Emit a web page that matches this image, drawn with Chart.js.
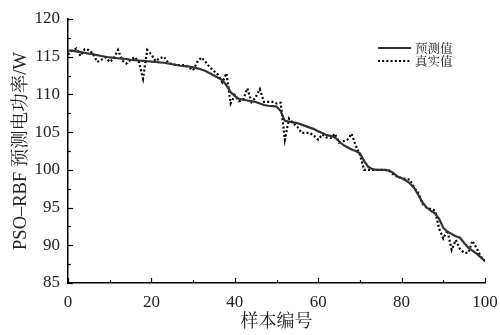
<!DOCTYPE html>
<html>
<head>
<meta charset="utf-8">
<script src="https://cdn.jsdelivr.net/npm/chart.js@4/dist/chart.umd.min.js"></script>
<style>
  html, body { margin: 0; padding: 0; background: #fff; }
  #wrap { width: 500px; height: 335px; position: relative; }
</style>
</head>
<body>
<div id="wrap"><canvas id="powerChart"></canvas></div>
<script>
// values, sample index 0..100
const predicted = [
  115.8, 115.8, 115.7, 115.6, 115.5, 115.4, 115.35, 115.2, 115.1, 115.0,
  114.9, 114.85, 114.8, 114.75, 114.7, 114.6, 114.55, 114.5, 114.45, 114.4,
  114.35, 114.3, 114.25, 114.2, 114.1, 114.0, 113.9, 113.8, 113.75, 113.7,
  113.6, 113.45, 113.3, 113.1, 112.8, 112.5, 112.2, 111.9, 111.2, 110.3,
  109.8, 109.4, 109.3, 109.2, 109.1, 109.0, 108.8, 108.6, 108.5, 108.45,
  108.4, 107.8, 106.5, 106.4, 106.3, 106.2, 106.0, 105.8, 105.6, 105.4,
  105.1, 104.9, 104.6, 104.5, 104.3, 103.8, 103.3, 103.0, 102.7, 102.5,
  102.2, 101.2, 100.4, 100.1, 100.0, 100.0, 100.0, 99.9, 99.6, 99.1,
  98.9, 98.6, 98.2, 97.6, 96.7, 95.7, 95.0, 94.6, 94.2, 93.5,
  92.3, 91.8, 91.5, 91.2, 91.0, 90.3, 89.7, 89.3, 88.9, 88.4,
  87.9
];
const actual = [
  115.3, 115.8, 116.1, 115.1, 116.0, 115.9, 115.4, 114.3, 114.6, 114.9,
  114.3, 114.8, 115.9, 114.5, 114.1, 114.6, 114.95, 114.3, 112.1, 115.9,
  115.3, 114.4, 114.8, 115.0, 114.2, 114.0, 113.9, 113.9, 113.9, 113.6,
  113.2, 114.3, 114.9, 114.3, 113.6, 113.1, 112.6, 111.6, 112.8, 108.8,
  109.9, 109.1, 109.3, 110.8, 109.0, 109.6, 110.7, 109.0, 109.0, 109.0,
  108.8, 108.9, 104.0, 106.8, 106.2, 105.7, 104.9, 104.9, 104.9, 104.5,
  104.0, 104.7, 104.3, 104.2, 104.8, 103.6, 103.8, 104.0, 104.8, 103.2,
  102.0, 100.0, 100.0, 100.0, 100.0, 100.0, 100.0, 99.9, 99.4, 99.1,
  98.9, 98.8, 98.7, 97.7, 96.9, 95.5, 95.0, 94.8, 94.6, 92.2,
  90.9, 92.0, 89.4, 90.7, 89.5, 89.0, 89.0, 90.6, 89.6, 88.5,
  87.9
];
const xLabelTicks = [0, 20, 40, 60, 80, 100];
const yLabelTicks = [85, 90, 95, 100, 105, 110, 115, 120];
const seriesNames = ["预测值", "真实值"];

const serif = '"Liberation Serif", "Times New Roman", "Noto Serif CJK SC", "Noto Sans CJK SC", serif';
const toPoints = arr => arr.map((v, i) => ({ x: i, y: v }));

// inward tick marks (major + minor) drawn off the library scales
const innerTicks = {
  id: "innerTicks",
  afterDraw(chart) {
    const { ctx, chartArea: a, scales: { x, y } } = chart;
    ctx.save();
    ctx.strokeStyle = "#000";
    ctx.lineWidth = 1.2;
    y.ticks.forEach(t => {
      const py = Math.round(y.getPixelForValue(t.value)) + 0.5;
      const len = yLabelTicks.includes(t.value) ? 5 : 3;
      ctx.beginPath(); ctx.moveTo(a.left, py); ctx.lineTo(a.left + len, py); ctx.stroke();
    });
    x.ticks.forEach(t => {
      const px = Math.round(x.getPixelForValue(t.value)) + 0.5;
      const len = xLabelTicks.includes(t.value) ? 5 : 3;
      ctx.beginPath(); ctx.moveTo(px, a.bottom); ctx.lineTo(px, a.bottom - len); ctx.stroke();
    });
    ctx.restore();
  }
};

// legend in the upper right of the plot
const cornerLegend = {
  id: "cornerLegend",
  afterDraw(chart) {
    const { ctx } = chart;
    const x0 = 378, x1 = 411, rows = [48, 61];
    ctx.save();
    chart.data.datasets.forEach((ds, i) => {
      ctx.strokeStyle = ds.borderColor;
      ctx.lineWidth = ds.borderWidth;
      ctx.setLineDash(ds.borderDash || []);
      ctx.beginPath(); ctx.moveTo(x0, rows[i]); ctx.lineTo(x1, rows[i]); ctx.stroke();
      ctx.setLineDash([]);
      ctx.fillStyle = "#222";
      ctx.font = '12.5px "Noto Serif CJK SC", "Noto Sans CJK SC", serif';
      ctx.textBaseline = "middle";
      ctx.fillText(ds.label, x1 + 4, rows[i]);
    });
    ctx.restore();
  }
};

new Chart(document.getElementById("powerChart"), {
  type: "line",
  data: {
    datasets: [
      {
        label: seriesNames[0],
        data: toPoints(predicted),
        borderColor: "#333",
        borderWidth: 2.2,
        pointRadius: 0,
        tension: 0
      },
      {
        label: seriesNames[1],
        data: toPoints(actual),
        borderColor: "#000",
        borderWidth: 2.2,
        borderDash: [2, 2.2],
        borderCapStyle: "butt",
        pointRadius: 0,
        tension: 0
      }
    ]
  },
  options: {
    responsive: true,
    maintainAspectRatio: false,
    animation: false,
    layout: { padding: { top: 19, right: 15, left: 0, bottom: 0 } },
    plugins: { legend: { display: false }, tooltip: { enabled: false } },
    scales: {
      x: {
        type: "linear",
        min: 0, max: 100,
        afterFit: s => { s.height = 52; s.paddingLeft = 0; s.paddingRight = 0; },
        border: { display: true, color: "#000", width: 1.5 },
        grid: { drawOnChartArea: false, drawTicks: false },
        ticks: {
          stepSize: 10,
          padding: 9,
          maxRotation: 0,
          autoSkip: false,
          color: "#222",
          font: { family: serif, size: 17 },
          callback: v => (xLabelTicks.includes(v) ? v : "")
        },
        title: {
          display: true,
          text: "样本编号",
          color: "#222",
          padding: { top: 0, bottom: 2 },
          font: { family: serif, size: 18 }
        }
      },
      y: {
        min: 85, max: 120,
        afterFit: s => { s.width = 68; s.paddingTop = 0; s.paddingBottom = 0; },
        border: { display: true, color: "#000", width: 1.5 },
        grid: { drawOnChartArea: false, drawTicks: false },
        ticks: {
          stepSize: 2.5,
          padding: 8,
          autoSkip: false,
          color: "#222",
          font: { family: serif, size: 17 },
          callback: v => (yLabelTicks.includes(v) ? v : "")
        },
        title: {
          display: true,
          text: "PSO–RBF 预测电功率/W",
          color: "#222",
          padding: { top: 10, bottom: 0 },
          font: { family: serif, size: 18.5 }
        }
      }
    }
  },
  plugins: [innerTicks, cornerLegend]
});
</script>
</body>
</html>
